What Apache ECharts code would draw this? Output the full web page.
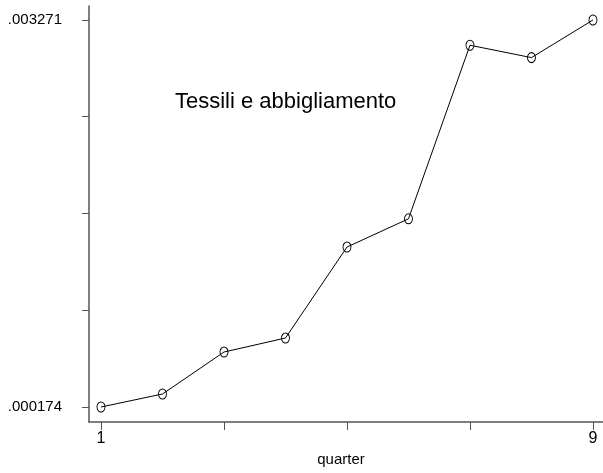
<!DOCTYPE html>
<html>
<head>
<meta charset="utf-8">
<script src="https://cdn.jsdelivr.net/npm/echarts@6/dist/echarts.min.js"></script>
<style>
  html, body { margin: 0; padding: 0; background: #fff; }
  #chart { width: 603px; height: 473px; }
</style>
</head>
<body>
<div id="chart"></div>
<script>
// quarters and series values
const quarters = [1, 2, 3, 4, 5, 6, 7, 8, 9];
const values = [0.000174, 0.000278, 0.000614, 0.000726, 0.001454, 0.001680, 0.003069, 0.002970, 0.003271];
const yTicks = [0.000174, 0.0009483, 0.0017225, 0.0024968, 0.003271];
const yLabels = [0.000174, 0.003271];
const xTicks = [1, 3, 5, 7, 9];
const xLabels = [1, 9];
const title = "Tessili e abbigliamento";

const chart = echarts.init(document.getElementById("chart"));

const fmt = (v) => {
  return "." + v.toFixed(6).split(".")[1];
};

chart.setOption({
  animation: false,
  grid: { left: 89, right: 0, top: 6, bottom: 51 },
  graphic: [
    {
      type: "text",
      left: 175,
      top: 91,
      style: {
        text: title,
        fontSize: 22,
        fontFamily: "Liberation Sans",
        fill: "#000"
      }
    }
  ],
  xAxis: {
    type: "value",
    min: 0.805,
    max: 9.163,
    name: "quarter",
    nameLocation: "middle",
    nameGap: 29,
    nameTextStyle: {
      color: "#000",
      fontSize: 15,
      fontFamily: "Liberation Sans",
      padding: [0, 10, 0, 0]
    },
    splitLine: { show: false },
    axisLine: { onZero: false, lineStyle: { color: "#555", width: 1.5 } },
    axisTick: {
      customValues: xTicks,
      length: 8,
      inside: false,
      lineStyle: { color: "#555" }
    },
    axisLabel: {
      customValues: xLabels,
      margin: 9,
      color: "#000",
      fontSize: 16,
      fontFamily: "Liberation Sans"
    }
  },
  yAxis: {
    type: "value",
    min: 0.000054,
    max: 0.003383,
    splitLine: { show: false },
    axisLine: { show: true, onZero: false, lineStyle: { color: "#555", width: 1.5 } },
    axisTick: {
      show: true,
      customValues: yTicks,
      length: 7,
      lineStyle: { color: "#555" }
    },
    axisLabel: {
      customValues: yLabels,
      margin: 27,
      color: "#000",
      fontSize: 15,
      fontFamily: "Liberation Sans",
      formatter: fmt
    }
  },
  series: [
    {
      type: "line",
      data: quarters.map((q, i) => [q, values[i]]),
      // thin open oval marker, line shows through
      symbol: "path://M0,-5A4,5,0,1,1,0,5A4,5,0,1,1,0,-5Z",
      symbolSize: [8, 10],
      lineStyle: { color: "#000", width: 1 },
      itemStyle: { color: "rgba(0,0,0,0)", borderColor: "#000", borderWidth: 1 }
    }
  ]
});
</script>
</body>
</html>
